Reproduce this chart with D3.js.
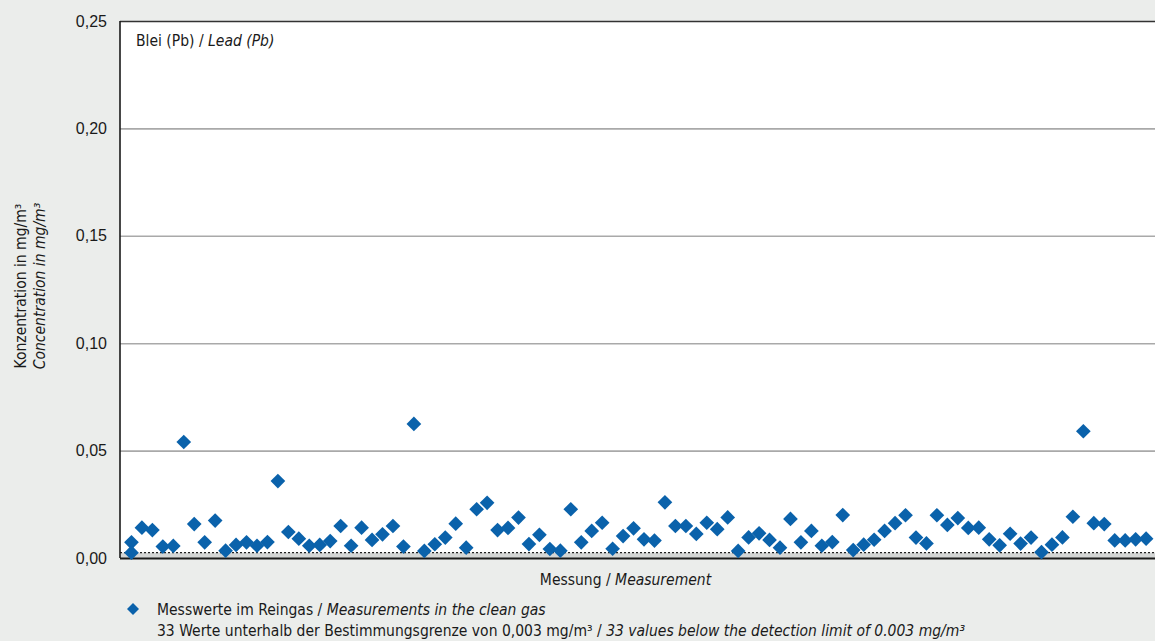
<!DOCTYPE html>
<html>
<head>
<meta charset="utf-8">
<script src="https://cdn.jsdelivr.net/npm/d3@7"></script>
<style>
  body { margin: 0; background: #ebedeb; }
  svg { display: block; font-family: "Liberation Sans Narrow", "DejaVu Sans Condensed", sans-serif; }
</style>
</head>
<body>
<div id="chart-area"></div>
<script>
// measurement number (first position holds two values)
const measurement = [1, 1, 2, 3, 4, 5, 6, 7, 8, 9, 10, 11, 12, 13, 14, 15, 16, 17, 18, 19, 20,
  21, 22, 23, 24, 25, 26, 27, 28, 29, 30, 31, 32, 33, 34, 35, 36, 37, 38, 39, 40,
  41, 42, 43, 44, 45, 46, 47, 48, 49, 50, 51, 52, 53, 54, 55, 56, 57, 58, 59, 60,
  61, 62, 63, 64, 65, 66, 67, 68, 69, 70, 71, 72, 73, 74, 75, 76, 77, 78, 79, 80,
  81, 82, 83, 84, 85, 86, 87, 88, 89, 90, 91, 92, 93, 94, 95, 96, 97, 98];

// lead concentration in mg/m3
const leadValues = [0.0073, 0.0025, 0.0141, 0.0130, 0.0053, 0.0056, 0.0540, 0.0158, 0.0073, 0.0174,
  0.0034, 0.0061, 0.0073, 0.0057, 0.0074, 0.0358, 0.0121, 0.0090, 0.0057, 0.0061,
  0.0079, 0.0149, 0.0057, 0.0141, 0.0084, 0.0110, 0.0149, 0.0053, 0.0624, 0.0033,
  0.0064, 0.0095, 0.0160, 0.0048, 0.0227, 0.0257, 0.0130, 0.0140, 0.0188, 0.0065,
  0.0108, 0.0042, 0.0034, 0.0227, 0.0073, 0.0126, 0.0164, 0.0043, 0.0102, 0.0138,
  0.0087, 0.0081, 0.0259, 0.0149, 0.0149, 0.0112, 0.0164, 0.0134, 0.0189, 0.0033,
  0.0096, 0.0115, 0.0084, 0.0048, 0.0182, 0.0073, 0.0126, 0.0057, 0.0074, 0.0200,
  0.0037, 0.0062, 0.0085, 0.0126, 0.0162, 0.0199, 0.0095, 0.0068, 0.0199, 0.0154,
  0.0186, 0.0140, 0.0141, 0.0087, 0.0059, 0.0113, 0.0067, 0.0095, 0.0027, 0.0062,
  0.0096, 0.0192, 0.0590, 0.0162, 0.0158, 0.0082, 0.0082, 0.0087, 0.0090];

const yTicks = [0, 0.05, 0.10, 0.15, 0.20, 0.25];
const limitBand = 0.0025;

const width = 1155, height = 641;
const margin = { top: 21, right: 0, bottom: 83, left: 120 };
const innerW = width - margin.left - margin.right;
const innerH = height - margin.top - margin.bottom;
const blue = '#0a62ab';

const de = d3.formatLocale({ decimal: ',', thousands: '.', grouping: [3], currency: ['', '€'] });

const svg = d3.select('#chart-area').append('svg')
  .attr('width', width)
  .attr('height', height);

svg.append('rect')
  .attr('width', width).attr('height', height)
  .attr('fill', '#ebedeb');

const g = svg.append('g')
  .attr('transform', `translate(${margin.left},${margin.top})`);

const x = d3.scaleLinear()
  .domain([0, 98.85])
  .range([1, innerW]);

const y = d3.scaleLinear()
  .domain([0, 0.25])
  .range([innerH, 0]);

g.append('rect')
  .attr('width', innerW).attr('height', innerH)
  .attr('fill', '#fff');

// gray band below the dotted limit line
g.append('rect')
  .attr('x', 0).attr('y', y(limitBand))
  .attr('width', innerW).attr('height', y(0) - y(limitBand))
  .attr('fill', '#d4d6d5');

g.append('line')
  .attr('x1', 0).attr('x2', innerW)
  .attr('y1', y(limitBand)).attr('y2', y(limitBand))
  .attr('stroke', '#222').attr('stroke-width', 1.2)
  .attr('stroke-dasharray', '2,2');

// gridlines + ticks
const yAxis = g.append('g')
  .call(d3.axisLeft(y).tickValues(yTicks).tickSize(7).tickPadding(6).tickFormat(de.format('.2f')));
yAxis.select('.domain').remove();
yAxis.selectAll('.tick line')
  .attr('x2', innerW)
  .attr('stroke', d => d === 0 ? '#1a1a1a' : (d === 0.25 ? '#333' : '#a9a9a9'))
  .attr('stroke-width', d => d === 0 ? 2 : 1.6);
yAxis.selectAll('.tick text')
  .attr('font-size', 16)
  .attr('fill', '#1a1a1a');

g.append('line')
  .attr('x1', 0).attr('x2', 0)
  .attr('y1', 0).attr('y2', innerH)
  .attr('stroke', '#1a1a1a').attr('stroke-width', 1.6);

// points
const data = measurement.map((m, i) => ({ m, v: leadValues[i] }));
const diamond = d3.symbol(d3.symbolSquare, 108);

g.selectAll('path.pt')
  .data(data)
  .enter()
  .append('path')
    .attr('class', 'pt')
    .attr('d', diamond)
    .attr('transform', d => `translate(${x(d.m)},${y(d.v)}) rotate(45)`)
    .attr('fill', blue);

// panel label
const lbl = g.append('text')
  .attr('x', 16).attr('y', 25)
  .attr('font-size', 15.5).attr('fill', '#1a1a1a');
lbl.append('tspan').text('Blei (Pb) / ');
lbl.append('tspan').attr('font-style', 'italic').text('Lead (Pb)');

// y axis title
const yt = svg.append('text')
  .attr('transform', 'translate(26,286) rotate(-90)')
  .attr('text-anchor', 'middle')
  .attr('font-size', 15.5).attr('fill', '#1a1a1a');
yt.append('tspan').attr('x', 0).attr('dy', 0).text('Konzentration in mg/m³');
yt.append('tspan').attr('x', 0).attr('dy', 19).attr('font-style', 'italic').text('Concentration in mg/m³');

// x axis title
const xt = svg.append('text')
  .attr('x', margin.left + innerW / 2 - 12).attr('y', 585)
  .attr('text-anchor', 'middle')
  .attr('font-size', 15.5).attr('fill', '#1a1a1a');
xt.append('tspan').text('Messung / ');
xt.append('tspan').attr('font-style', 'italic').text('Measurement');

// legend
svg.append('path')
  .attr('d', d3.symbol(d3.symbolSquare, 72))
  .attr('transform', 'translate(133,609) rotate(45)')
  .attr('fill', blue);

const l1 = svg.append('text')
  .attr('x', 157).attr('y', 615)
  .attr('font-size', 15.5).attr('fill', '#1a1a1a');
l1.append('tspan').text('Messwerte im Reingas / ');
l1.append('tspan').attr('font-style', 'italic').text('Measurements in the clean gas');

const l2 = svg.append('text')
  .attr('x', 157).attr('y', 636)
  .attr('font-size', 15.5).attr('fill', '#1a1a1a');
l2.append('tspan').text('33 Werte unterhalb der Bestimmungsgrenze von 0,003 mg/m³ / ');
l2.append('tspan').attr('font-style', 'italic').text('33 values below the detection limit of 0.003 mg/m³');
</script>
</body>
</html>
